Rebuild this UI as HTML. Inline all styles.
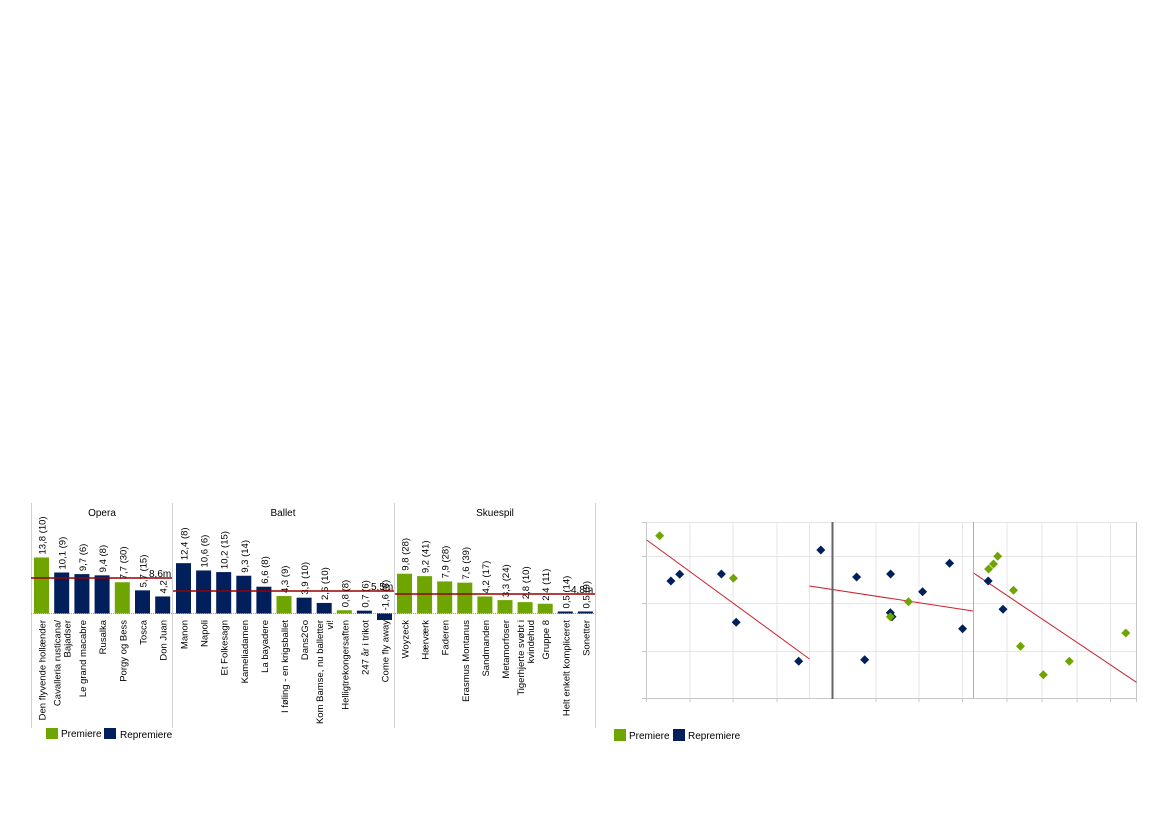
<!DOCTYPE html>
<html><head><meta charset="utf-8"><style>
html,body{margin:0;padding:0;background:#fff;}
svg{display:block;font-family:"Liberation Sans",sans-serif;}
</style></head><body>
<svg width="1169" height="826" viewBox="0 0 1169 826" xmlns="http://www.w3.org/2000/svg">
<g stroke="#d0d0d0" stroke-width="1">
<line x1="31.5" y1="503" x2="31.5" y2="728"/>
<line x1="172.5" y1="503" x2="172.5" y2="728"/>
<line x1="394.5" y1="503" x2="394.5" y2="728"/>
<line x1="595.5" y1="503" x2="595.5" y2="728"/>
</g>
<g font-size="10" fill="#000" text-anchor="middle">
<text x="102" y="516">Opera</text>
<text x="283" y="516">Ballet</text>
<text x="495" y="516">Skuespil</text>
</g>
<line x1="31" y1="613.5" x2="595" y2="613.5" stroke="#999" stroke-dasharray="1,1"/>
<g id="bars" font-size="9.5"></g>
<g stroke="#990000" stroke-width="1.5">
<line x1="31" y1="578" x2="172" y2="578"/>
<line x1="173" y1="591" x2="394" y2="591"/>
<line x1="395" y1="594" x2="595" y2="594"/>
</g>
<g font-size="10" fill="#000">
<text x="149" y="577">8,6m</text>
<text x="371" y="590">5,5m</text>
<text x="571" y="593">4,8m</text>
</g>
<rect x="46" y="728" width="12" height="11" fill="#6fa500"/>
<text x="61" y="737" font-size="10">Premiere</text>
<rect x="104" y="728" width="12" height="11" fill="#001f5b"/>
<text x="120" y="738" font-size="10">Repremiere</text>

<g stroke="#e6e6e6" stroke-width="1">
<line x1="646" y1="522.5" x2="1137" y2="522.5"/>
<line x1="646" y1="556.5" x2="1137" y2="556.5"/>
<line x1="646" y1="603.5" x2="1137" y2="603.5"/>
<line x1="646" y1="651.5" x2="1137" y2="651.5"/>
<line x1="690" y1="522" x2="690" y2="698"/>
<line x1="733" y1="522" x2="733" y2="698"/>
<line x1="777" y1="522" x2="777" y2="698"/>
<line x1="809.5" y1="522" x2="809.5" y2="698"/>
<line x1="876" y1="522" x2="876" y2="698"/>
<line x1="919" y1="522" x2="919" y2="698"/>
<line x1="962.5" y1="522" x2="962.5" y2="698"/>
<line x1="1007" y1="522" x2="1007" y2="698"/>
<line x1="1042" y1="522" x2="1042" y2="698"/>
<line x1="1077" y1="522" x2="1077" y2="698"/>
<line x1="1110.5" y1="522" x2="1110.5" y2="698"/>
</g>
<g stroke="#c8c8c8" stroke-width="1">
<line x1="646.5" y1="522" x2="646.5" y2="702"/>
<line x1="1136.5" y1="522" x2="1136.5" y2="702"/>
<line x1="642" y1="698.5" x2="1137" y2="698.5"/>
<line x1="642" y1="556.5" x2="646" y2="556.5"/>
<line x1="642" y1="603.5" x2="646" y2="603.5"/>
<line x1="642" y1="651.5" x2="646" y2="651.5"/>
<line x1="642" y1="522.5" x2="646" y2="522.5"/>
<line x1="690" y1="698" x2="690" y2="702"/><line x1="733" y1="698" x2="733" y2="702"/>
<line x1="777" y1="698" x2="777" y2="702"/><line x1="876" y1="698" x2="876" y2="702"/>
<line x1="919" y1="698" x2="919" y2="702"/><line x1="962.5" y1="698" x2="962.5" y2="702"/>
<line x1="1007" y1="698" x2="1007" y2="702"/><line x1="1042" y1="698" x2="1042" y2="702"/>
<line x1="1077" y1="698" x2="1077" y2="702"/><line x1="1110.5" y1="698" x2="1110.5" y2="702"/>
</g>
<line x1="832.5" y1="522" x2="832.5" y2="699" stroke="#666" stroke-width="2"/>
<line x1="973.5" y1="522" x2="973.5" y2="699" stroke="#b0b0b0" stroke-width="1"/>
<g stroke="#d0202a" stroke-width="1">
<line x1="646.7" y1="540" x2="809.5" y2="659"/>
<line x1="809.5" y1="586" x2="973" y2="611"/>
<line x1="974" y1="573.3" x2="1136.5" y2="682.3"/>
</g>
<g id="pts"></g>
<rect x="614" y="729" width="12" height="12" fill="#6fa500"/>
<text x="629" y="739" font-size="10">Premiere</text>
<rect x="673" y="729" width="12" height="12" fill="#001f5b"/>
<text x="688" y="739" font-size="10">Repremiere</text>
</svg>
<script>
var G="#6fa500",N="#001f5b";
var groups=[[34,20.2,[
["Den flyvende hollænder","13,8 (10)",13.8,G],["Cavalleria rusticana/|Bajadser","10,1 (9)",10.1,N],["Le grand macabre","9,7 (6)",9.7,N],["Rusalka","9,4 (8)",9.4,N],["Porgy og Bess","7,7 (30)",7.7,G],["Tosca","5,7 (15)",5.7,N],["Don Juan","4,2",4.2,N]]],
[176,20.1,[["Manon","12,4 (8)",12.4,N],["Napoli","10,6 (6)",10.6,N],["Et Folkesagn","10,2 (15)",10.2,N],["Kameliadamen","9,3 (14)",9.3,N],["La bayadere","6,6 (8)",6.6,N],["I føling - en krigsballet","4,3 (9)",4.3,G],["Dans2Go","3,9 (10)",3.9,N],["Kom Bamse, nu balletter|vi!","2,6 (10)",2.6,N],["Helligtrekongersaften","0,8 (8)",0.8,G],["247 år i trikot","0,7 (6)",0.7,N],["Come fly away","-1,6 (8)",-1.6,N]]],
[397,20.1,[["Woyzeck","9,8 (28)",9.8,G],["Hærværk","9,2 (41)",9.2,G],["Faderen","7,9 (28)",7.9,G],["Erasmus Montanus","7,6 (39)",7.6,G],["Sandmanden","4,2 (17)",4.2,G],["Metamorfoser","3,3 (24)",3.3,G],["Tigerhjerte svøbt i|kvindehud","2,8 (10)",2.8,G],["Gruppe 8","2,4 (11)",2.4,G],["Helt enkelt kompliceret","0,5 (14)",0.5,N],["Sonetter","0,5 (9)",0.5,N]]]];
var B=613.5,S=4.06,g=document.getElementById("bars"),h="";
groups.forEach(function(gr){gr[2].forEach(function(d,i){
var x=gr[0]+gr[1]*i,cx=x+7.5,v=d[2],top=v>=0?B-v*S:B,hh=Math.abs(v)*S;
h+='<rect x="'+x+'" y="'+top+'" width="15" height="'+hh+'" fill="'+d[3]+'"/>';
var ly=v>=0?top-3:B-3;
h+='<text transform="translate('+(cx+4)+','+ly+') rotate(-90)">'+d[1]+'</text>';
var L=d[0].split("|");
if(L.length==1)h+='<text text-anchor="end" transform="translate('+(cx+4)+',620) rotate(-90)">'+L[0]+'</text>';
else{h+='<text text-anchor="end" transform="translate('+(cx-1)+',620) rotate(-90)">'+L[0]+'</text>';h+='<text text-anchor="end" transform="translate('+(cx+9)+',620) rotate(-90)">'+L[1]+'</text>';}
});});
g.innerHTML=h;
var P=[[659.7,535.7,G],[670.9,581,N],[679.7,574.3,N],[721.4,574,N],[733.4,578.3,G],[736.2,622.3,N],[798.7,661.3,N],
[820.8,550,N],[856.6,577,N],[890.6,574,N],[922.6,591.7,N],[949.6,563.3,N],[890.3,612.7,N],[892,616.7,N],[890.3,616.7,G],[908.5,601.7,G],[864.7,659.7,N],[962.6,628.7,N],
[988.6,569,G],[993.5,564,G],[997.7,556.3,G],[988.2,581,N],[1013.5,590.3,G],[1003,609.3,N],[1020.5,646.3,G],[1043.3,674.7,G],[1069.3,661.3,G],[1125.8,633,G]],s="";
P.forEach(function(p){s+='<polygon points="'+p[0]+','+(p[1]-4.5)+' '+(p[0]+4.5)+','+p[1]+' '+p[0]+','+(p[1]+4.5)+' '+(p[0]-4.5)+','+p[1]+'" fill="'+p[2]+'"/>';});
document.getElementById("pts").innerHTML=s;
</script>
</body></html>
